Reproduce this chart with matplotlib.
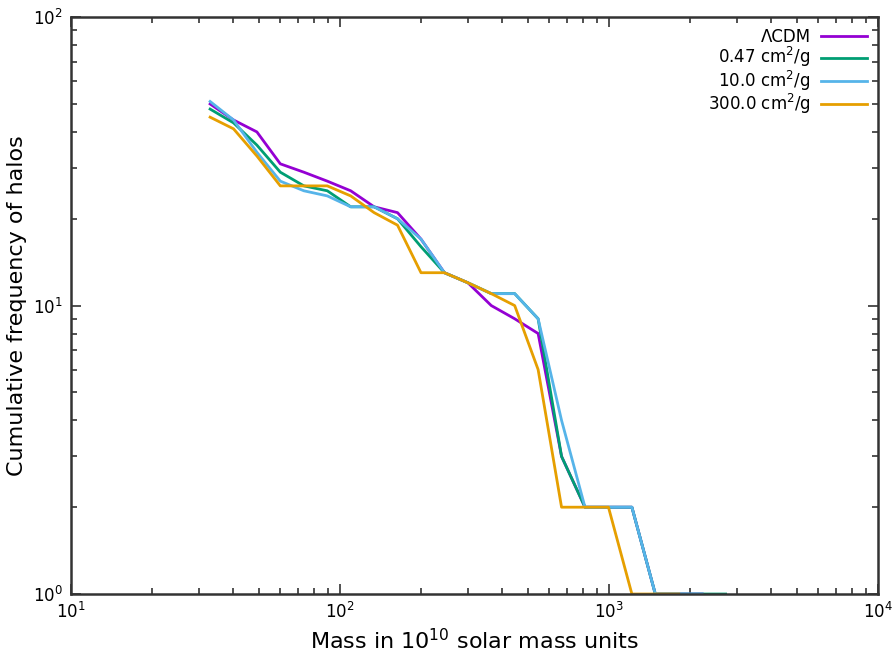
import matplotlib
matplotlib.use("Agg")
import matplotlib.pyplot as plt
from matplotlib.ticker import LogLocator, NullFormatter

# halo mass bins (in 1e10 solar masses)
mass = [32.9, 40.2, 49.1, 60.0, 73.4, 89.7, 109.6, 133.9, 163.6, 200.0, 244.4,
        298.7, 365.0, 446.0, 545.0, 666.0, 814.0, 995.0, 1216.0, 1486.0,
        1816.0, 2219.0, 2712.0]

# cumulative halo counts per model
lcdm = [50, 44, 40, 31, 29, 27, 25, 22, 21, 17, 13, 12, 10, 9, 8, 3, 2, 2, 2,
        1, 1, 1]
sidm_047 = [48, 43, 36, 29, 26, 25, 22, 22, 20, 16, 13, 12, 11, 11, 9, 3, 2, 2,
            2, 1, 1, 1, 1]
sidm_10 = [51, 44, 34, 27, 25, 24, 22, 22, 20, 17, 13, 12, 11, 11, 9, 4, 2, 2,
           2, 1, 1, 1]
sidm_300 = [45, 41, 33, 26, 26, 26, 24, 21, 19, 13, 13, 12, 11, 10, 6, 2, 2, 2,
            1, 1, 1]

fig, ax = plt.subplots(figsize=(8.96, 6.59), dpi=100)
fig.subplots_adjust(left=0.0792, right=0.98, bottom=0.0986, top=0.974)

ax.plot(mass[:len(lcdm)], lcdm, color="#9400d3", lw=2, label="ΛCDM")
ax.plot(mass[:len(sidm_047)], sidm_047, color="#009e73", lw=2,
        label=r"0.47 cm$^2$/g")
ax.plot(mass[:len(sidm_10)], sidm_10, color="#56b4e9", lw=2,
        label=r"10.0 cm$^2$/g")
ax.plot(mass[:len(sidm_300)], sidm_300, color="#e69f00", lw=2,
        label=r"300.0 cm$^2$/g")

ax.set_xscale("log")
ax.set_yscale("log")
ax.set_xlim(10, 1e4)
ax.set_ylim(1, 100)

ax.xaxis.set_major_locator(LogLocator(base=10, numticks=10))
ax.yaxis.set_major_locator(LogLocator(base=10, numticks=10))
ax.xaxis.set_minor_locator(LogLocator(base=10, subs=range(2, 10), numticks=20))
ax.yaxis.set_minor_locator(LogLocator(base=10, subs=range(2, 10), numticks=20))
ax.xaxis.set_minor_formatter(NullFormatter())
ax.yaxis.set_minor_formatter(NullFormatter())

ax.tick_params(which="both", direction="in", top=True, right=True,
               color="#333333", width=1.2)
ax.tick_params(which="major", length=7, labelsize=12, pad=6)
ax.tick_params(which="minor", length=4)
for s in ax.spines.values():
    s.set_linewidth(1.8)
    s.set_color("#333333")

ax.set_xlabel(r"Mass in 10$^{10}$ solar mass units", fontsize=16)
ax.set_ylabel("Cumulative frequency of halos", fontsize=16)

ax.legend(loc="upper right", frameon=False, markerfirst=False, fontsize=12,
          handlelength=2.8, handletextpad=0.6, labelspacing=-0.04,
          borderaxespad=0.35, borderpad=0.3)

fig.savefig("out.png", dpi=100)
